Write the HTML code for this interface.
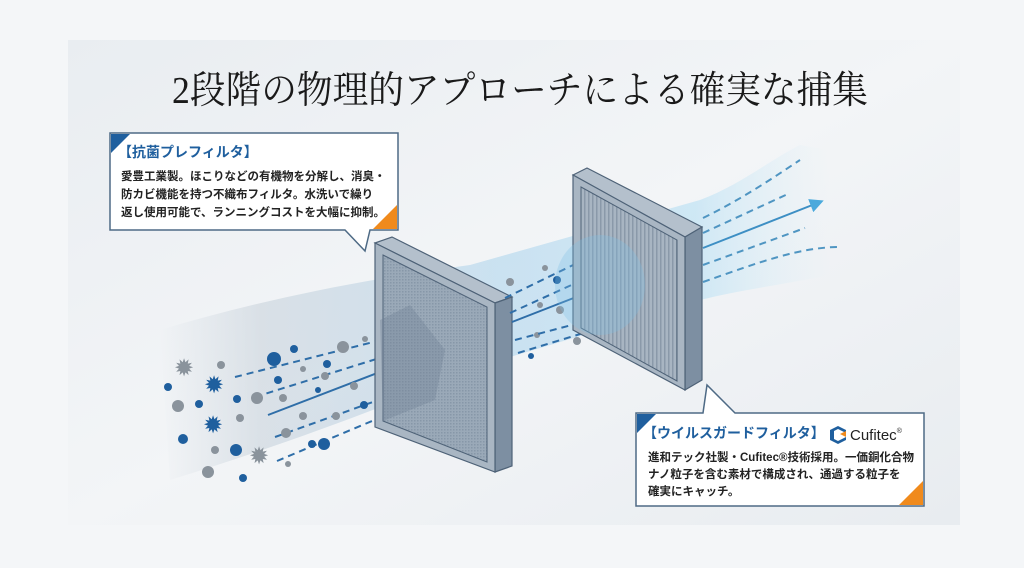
<!DOCTYPE html>
<html><head><meta charset="utf-8"><style>
html,body{margin:0;padding:0;background:#f4f6f8;}
svg{display:block}
.jp{font-family:"Liberation Sans","Noto Sans CJK JP",sans-serif;}
</style></head><body>
<svg width="1024" height="568" viewBox="0 0 1024 568" xmlns="http://www.w3.org/2000/svg">
<defs>
<linearGradient id="pg" x1="0" y1="0" x2="1" y2="1">
<stop offset="0" stop-color="#e9edf1"/><stop offset="0.5" stop-color="#f3f5f7"/><stop offset="1" stop-color="#e8ecf0"/></linearGradient>
<linearGradient id="band" x1="0" y1="0" x2="1" y2="0">
<stop offset="0" stop-color="#c9d3dc" stop-opacity="0"/><stop offset="0.15" stop-color="#c9d3dc" stop-opacity="0.6"/>
<stop offset="0.5" stop-color="#b9d9ee" stop-opacity="0.7"/><stop offset="0.8" stop-color="#bfe2f4" stop-opacity="0.7"/><stop offset="1" stop-color="#d8eef8" stop-opacity="0"/></linearGradient>
<pattern id="mesh" width="3" height="3" patternUnits="userSpaceOnUse"><rect width="3" height="3" fill="#9aa9b8"/><rect width="1.5" height="1.5" fill="#8797a8"/></pattern>
<pattern id="pleat" width="4" height="4" patternUnits="userSpaceOnUse"><rect width="4" height="4" fill="#a8b5c2"/><rect width="1.5" height="4" fill="#8a99a9"/></pattern>
<marker id="ah" markerWidth="8" markerHeight="8" refX="6" refY="4" orient="auto" markerUnits="userSpaceOnUse"><path d="M0,0 L8,4 L0,8 z" fill="#2f6ea8"/></marker>
<marker id="ah2" markerWidth="14" markerHeight="14" refX="10" refY="7" orient="auto" markerUnits="userSpaceOnUse"><path d="M0,0 L14,7 L0,14 z" fill="#2f6ea8"/></marker>
<marker id="ah3" markerWidth="14" markerHeight="14" refX="10" refY="7" orient="auto" markerUnits="userSpaceOnUse"><path d="M0,0 L14,7 L0,14 z" fill="#4aa9dc"/></marker>
</defs>
<rect width="1024" height="568" fill="#f4f6f8"/>
<rect x="68" y="40" width="892" height="485" fill="url(#pg)"/>
<text x="172" y="103" font-family="'Liberation Serif','Noto Serif CJK SC',serif" font-size="38" fill="#1a1a1a" textLength="696" lengthAdjust="spacingAndGlyphs">2段階の物理的アプローチによる確実な捕集</text>

<!-- airflow band -->
<path d="M160,330 C260,300 360,280 470,265 L700,200 C740,185 770,160 800,145 L830,150 L830,275 C780,285 740,290 700,300 L500,360 C400,400 300,440 170,480 Z" fill="url(#band)"/>
<path d="M385,315 L405,300 L440,350 L425,400 L385,420 Z" fill="#6e8297" opacity="0.35"/>

<!-- left dashed lines -->
<g stroke="#2f6ea8" stroke-width="2" fill="none">
<path d="M235,377 L405,334" stroke-dasharray="7,5" marker-end="url(#ah2)"/>
<path d="M255,397 L405,350" stroke-dasharray="7,5"/>
<path d="M268,415 L432,352" marker-end="url(#ah2)"/>
<path d="M275,437 L440,378" stroke-dasharray="7,5" marker-end="url(#ah2)"/>
<path d="M277,461 L410,405" stroke-dasharray="7,5"/>
</g>
<!-- particles -->
<g fill="#8a939c">
<circle cx="221" cy="365" r="4"/><circle cx="178" cy="406" r="6"/><circle cx="215" cy="450" r="4"/><circle cx="208" cy="472" r="6"/>
<circle cx="240" cy="418" r="4"/><circle cx="257" cy="398" r="6"/><circle cx="283" cy="398" r="4"/><circle cx="286" cy="433" r="5"/>
<circle cx="303" cy="416" r="4"/><circle cx="303" cy="369" r="3"/><circle cx="325" cy="376" r="4"/><circle cx="336" cy="416" r="4"/>
<circle cx="343" cy="347" r="6"/><circle cx="365" cy="339" r="3"/><circle cx="354" cy="386" r="4"/><circle cx="288" cy="464" r="3"/>
<circle cx="510" cy="282" r="4"/><circle cx="545" cy="268" r="3"/><circle cx="540" cy="305" r="3"/><circle cx="560" cy="310" r="4"/><circle cx="537" cy="335" r="3"/><circle cx="577" cy="341" r="4"/>
</g>
<g fill="#1f5f9e">
<circle cx="168" cy="387" r="4"/><circle cx="199" cy="404" r="4"/><circle cx="183" cy="439" r="5"/><circle cx="236" cy="450" r="6"/>
<circle cx="243" cy="478" r="4"/><circle cx="237" cy="399" r="4"/><circle cx="278" cy="380" r="4"/><circle cx="274" cy="359" r="7"/>
<circle cx="327" cy="364" r="4"/><circle cx="312" cy="444" r="4"/><circle cx="364" cy="405" r="4"/><circle cx="389" cy="375" r="4"/>
<circle cx="393" cy="398" r="4"/><circle cx="294" cy="349" r="4"/><circle cx="324" cy="444" r="6"/><circle cx="318" cy="390" r="3"/>
<circle cx="557" cy="280" r="4"/><circle cx="589" cy="299" r="3"/><circle cx="531" cy="356" r="3"/>
</g>
<g font-size="24" font-family="'DejaVu Sans',sans-serif" text-anchor="middle">
<text x="184" y="376" fill="#8a939c">✹</text><text x="214" y="393" fill="#1f5f9e">✹</text><text x="213" y="433" fill="#1f5f9e">✹</text><text x="259" y="464" fill="#8a939c">✹</text>
</g>

<!-- filter 1 -->
<polygon points="375,243 392,237 512,297 495,303" fill="#b4c0cc" stroke="#4e6277" stroke-width="1.2"/>
<polygon points="495,303 512,297 512,466 495,472" fill="#7d8fa2" stroke="#4e6277" stroke-width="1.2"/>
<polygon points="375,243 495,303 495,472 375,427" fill="#a9b6c3" stroke="#4e6277" stroke-width="1.2"/>
<polygon points="383,255 487,307 487,462 383,421" fill="url(#mesh)" stroke="#4e6277" stroke-width="1"/>
<path d="M380,320 L410,305 L445,350 L435,400 L383,421 Z" fill="#6d7f92" opacity="0.35"/>

<!-- middle lines -->
<g stroke="#2f6ea8" stroke-width="2" fill="none">
<path d="M505,298 L600,252" stroke-dasharray="7,5" marker-end="url(#ah2)"/>
<path d="M510,313 L600,272" stroke-dasharray="7,5"/>
<path d="M512,322 L625,278" marker-end="url(#ah2)"/>
<path d="M515,340 L640,307" stroke-dasharray="7,5" marker-end="url(#ah2)"/>
<path d="M518,353 L600,328" stroke-dasharray="7,5"/>
</g>

<!-- filter 2 -->
<polygon points="573,175 587,168 702,227 685,237" fill="#b4c0cc" stroke="#4e6277" stroke-width="1.2"/>
<polygon points="685,237 702,227 702,380 685,390" fill="#7d8fa2" stroke="#4e6277" stroke-width="1.2"/>
<polygon points="573,175 685,237 685,390 573,330" fill="#a9b6c3" stroke="#4e6277" stroke-width="1.2"/>
<polygon points="581,187 677,240 677,381 581,328" fill="url(#pleat)" stroke="#4e6277" stroke-width="1"/>
<ellipse cx="600" cy="285" rx="45" ry="50" fill="#7fc0e6" opacity="0.3"/>

<!-- right lines -->
<g stroke="#4f95c2" stroke-width="2" fill="none">
<path d="M703,218 C740,200 770,180 800,160" stroke-dasharray="7,5"/>
<path d="M703,233 L790,193" stroke-dasharray="7,5"/>
<path d="M703,248 L820,202" stroke="#3d8fc4" marker-end="url(#ah3)"/>
<path d="M703,265 L805,228" stroke-dasharray="7,5"/>
<path d="M703,282 C760,262 800,247 840,247" stroke-dasharray="7,5"/>
</g>

<!-- callout 1 -->
<path d="M110,133 L398,133 L398,230 L370,230 L365,251 L345,230 L110,230 Z" fill="#fff" stroke="#4e6a85" stroke-width="1.5"/>
<polygon points="111,134 130,134 111,153" fill="#1f5f9e"/>
<polygon points="397,205 397,229 373,229" fill="#f08a1c"/>
<text class="jp" x="118" y="157" font-size="14" font-weight="bold" fill="#1f5f9e">【抗菌プレフィルタ】</text>
<g class="jp" font-size="11.5" font-weight="bold" fill="#222">
<text x="121" y="180">愛豊工業製。ほこりなどの有機物を分解し、消臭・</text>
<text x="121" y="198">防カビ機能を持つ不織布フィルタ。水洗いで繰り</text>
<text x="121" y="216">返し使用可能で、ランニングコストを大幅に抑制。</text>
</g>

<!-- callout 2 -->
<path d="M636,413 L703,413 L707,385 L735,413 L924,413 L924,506 L636,506 Z" fill="#fff" stroke="#4e6a85" stroke-width="1.5"/>
<polygon points="637,414 656,414 637,433" fill="#1f5f9e"/>
<polygon points="923,481 923,505 899,505" fill="#f08a1c"/>
<text class="jp" x="643" y="438" font-size="14" font-weight="bold" fill="#1f5f9e">【ウイルスガードフィルタ】</text>
<path d="M838,426 L830,430 L830,440 L838,444 L846,440 L846,437 L838,441 L834,439 L834,431 L838,429 L846,433 L846,430 Z" fill="#1f5f9e"/>
<polygon points="840,434 846,431 846,437" fill="#f08a1c"/>
<text x="850" y="440" font-family="'Liberation Sans',sans-serif" font-size="15" fill="#222">Cufitec<tspan font-size="7" dy="-7">®</tspan></text>
<g class="jp" font-size="11.5" font-weight="bold" fill="#222">
<text x="648" y="461">進和テック社製・Cufitec®技術採用。一価銅化合物</text>
<text x="648" y="478">ナノ粒子を含む素材で構成され、通過する粒子を</text>
<text x="648" y="495">確実にキャッチ。</text>
</g>
</svg>
</body></html>
